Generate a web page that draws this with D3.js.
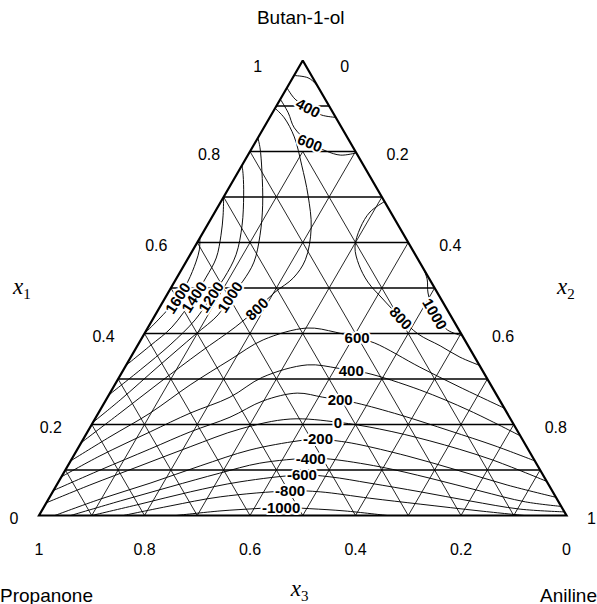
<!DOCTYPE html>
<html>
<head>
<meta charset="utf-8">
<script src="https://cdn.jsdelivr.net/npm/d3@7"></script>
<style>
  body { margin: 0; background: #fff; }
  svg { display: block; }
  text { font-family: "Liberation Sans", Arial, sans-serif; fill: #000; }
</style>
</head>
<body>
<svg width="597" height="604"></svg>
<script>
const width = 597
const height = 604
const marginL = 39, marginR = 30.5, marginT = 60.5, marginB = 88.5

// every point is a composition [x1, x2]; x3 = 1 - x1 - x2
const vertexNames = ["Butan-1-ol", "Propanone", "Aniline"]
const tickValues = [0, 0.2, 0.4, 0.6, 0.8, 1]
const tickLabels = ["0", "0.2", "0.4", "0.6", "0.8", "1"]
const gridValues = [0.1, 0.2, 0.3, 0.4, 0.5, 0.6, 0.7, 0.8, 0.9]
const slantTop = 0.8 // slanted grid lines stop at this x1 row

const contourLevels = [200, 400, 600, 800, 1000, 1200, 1400, 1600, 800, 1000,
  600, 400, 200, 0, -200, -400, -600, -800, -1000]

const contourPaths = [
  [[0.967,0],[0.962,0.029],[0.948,0.051],[0.935,0.065]],
  [[0.94,0],[0.915,0.028],[0.896,0.062],[0.88,0.096],[0.875,0.125]],
  [[0.915,0],[0.885,0.030],[0.852,0.058],[0.819,0.104],[0.801,0.144],[0.792,0.176],[0.797,0.203]],
  [[0.895,0],[0.874,0.028],[0.832,0.068],[0.770,0.113],[0.704,0.158],[0.632,0.200],[0.562,0.224],
   [0.522,0.221],[0.491,0.202],[0.454,0.186],[0.414,0.165],[0.359,0.126],[0.293,0.083],[0.225,0.041],[0.16,0]],
  [[0.83,0],[0.808,0.015],[0.759,0.043],[0.682,0.083],[0.616,0.111],[0.557,0.129],[0.515,0.129],
   [0.480,0.122],[0.441,0.119],[0.397,0.097],[0.331,0.064],[0.254,0.027],[0.205,0]],
  [[0.77,0],[0.748,0.013],[0.704,0.036],[0.638,0.066],[0.573,0.087],[0.522,0.090],[0.480,0.086],
   [0.430,0.081],[0.375,0.061],[0.320,0.032],[0.265,0]],
  [[0.70,0],[0.660,0.019],[0.616,0.037],[0.566,0.053],[0.524,0.055],[0.480,0.054],[0.414,0.045],
   [0.373,0.024],[0.33,0]],
  [[0.61,0],[0.584,0.012],[0.557,0.019],[0.515,0.025],[0.478,0.024],[0.430,0.011],[0.40,0]],
  [[0.69,0.31],[0.667,0.294],[0.632,0.293],[0.590,0.304],[0.551,0.331],[0.513,0.367],[0.478,0.411],
   [0.434,0.469],[0.399,0.519],[0.373,0.574],[0.348,0.624],[0.33,0.67]],
  [[0.54,0.46],[0.518,0.477],[0.489,0.493],[0.443,0.529],[0.408,0.570],[0.395,0.605]],
  [[0.12,0],[0.173,0.048],[0.225,0.098],[0.287,0.143],[0.342,0.191],[0.386,0.232],[0.412,0.302],
   [0.403,0.360],[0.390,0.408],[0.379,0.447],[0.326,0.559],[0.282,0.657],[0.236,0.764]],
  [[0.085,0],[0.131,0.050],[0.184,0.119],[0.225,0.174],[0.260,0.232],[0.304,0.272],[0.331,0.343],
   [0.324,0.403],[0.318,0.433],[0.313,0.465],[0.276,0.584],[0.230,0.702],[0.175,0.825]],
  [[0.055,0],[0.100,0.066],[0.146,0.137],[0.184,0.195],[0.216,0.254],[0.252,0.299],[0.269,0.355],
   [0.260,0.408],[0.254,0.444],[0.247,0.479],[0.221,0.574],[0.186,0.686],[0.153,0.788],[0.12,0.88]],
  [[0.028,0],[0.067,0.063],[0.109,0.137],[0.151,0.211],[0.190,0.286],[0.212,0.370],[0.205,0.464],
   [0.190,0.551],[0.164,0.659],[0.124,0.793],[0.075,0.925]],
  [[0,0.03],[0.036,0.098],[0.071,0.175],[0.109,0.251],[0.144,0.328],[0.164,0.409],[0.168,0.445],
   [0.164,0.483],[0.157,0.524],[0.131,0.632],[0.100,0.742],[0.067,0.854],[0.04,0.96]],
  [[0,0.06],[0.032,0.138],[0.063,0.217],[0.093,0.296],[0.115,0.361],[0.126,0.452],[0.124,0.490],
   [0.107,0.593],[0.082,0.700],[0.054,0.809],[0.030,0.907],[0.02,0.98]],
  [[0,0.10],[0.025,0.179],[0.052,0.261],[0.074,0.344],[0.089,0.454],[0.085,0.509],[0.071,0.592],
   [0.052,0.697],[0.032,0.801],[0.014,0.905],[0.008,0.992]],
  [[0,0.16],[0.021,0.238],[0.041,0.323],[0.054,0.449],[0.052,0.507],[0.038,0.608],[0.025,0.710],
   [0.010,0.831],[0,0.92]],
  [[0,0.26],[0.010,0.338],[0.015,0.402],[0.018,0.450],[0.015,0.506],[0.010,0.575],[0,0.66]]
]

const labelTexts = ["400", "600", "1600", "1400", "1200", "1000", "800", "800", "1000",
  "600", "400", "200", "0", "-200", "-400", "-600", "-800", "-1000"]
const labelSpots = [[0.896,0.062],[0.819,0.104],[0.478,0.024],[0.480,0.054],[0.480,0.086],
  [0.480,0.122],[0.454,0.186],[0.434,0.469],[0.443,0.529],[0.390,0.408],[0.318,0.433],
  [0.254,0.444],[0.205,0.464],[0.168,0.445],[0.126,0.452],[0.089,0.454],[0.054,0.449],[0.018,0.450]]
const labelAngles = [28, 22, -57, -57, -57, -57, -45, 47, 60, 0, 0, 0, 0, 0, 0, 0, 0, 0]

const svg = d3.select("svg")

// horizontal position is x2 + x1/2, vertical is x1
const xScale = d3.scaleLinear().domain([0, 1]).range([marginL, width - marginR])
const yScale = d3.scaleLinear().domain([0, 1]).range([height - marginB, marginT])
const pt = c => [xScale(c[1] + c[0] / 2), yScale(c[0])]

const corners = [[1, 0], [0, 0], [0, 1]]

svg.append("clipPath").attr("id", "tri")
  .append("polygon").attr("points", corners.map(pt).join(" "))

const straight = d3.line().x(c => pt(c)[0]).y(c => pt(c)[1])
const smooth = d3.line().x(c => pt(c)[0]).y(c => pt(c)[1]).curve(d3.curveCatmullRom.alpha(0.5))

// grid
const grid = svg.append("g").attr("stroke", "#000").attr("fill", "none")
gridValues.forEach(v => {
  grid.append("path").attr("d", straight([[v, 0], [v, 1 - v]])).attr("stroke-width", 1.4)
  const topRow = Math.min(slantTop, 1 - v)
  grid.append("path").attr("d", straight([[0, v], [topRow, v]])).attr("stroke-width", 0.85)
  grid.append("path").attr("d", straight([[0, 1 - v], [topRow, 1 - v - topRow]])).attr("stroke-width", 0.85)
})

// contours
svg.append("g").attr("clip-path", "url(#tri)")
  .selectAll("path").data(contourPaths).join("path")
  .attr("d", d => smooth(d))
  .attr("fill", "none").attr("stroke", "#000").attr("stroke-width", 0.95)
  .attr("class", (d, i) => "level" + contourLevels[i])

// frame
svg.append("path")
  .attr("d", straight(corners.concat([corners[0]])))
  .attr("fill", "none").attr("stroke", "#000").attr("stroke-width", 2.2)
  .attr("stroke-linejoin", "miter")

// contour labels with a white halo that cuts the lines
svg.append("g").selectAll("text").data(labelTexts).join("text")
  .attr("transform", (d, i) => {
    const p = pt(labelSpots[i])
    return "translate(" + p[0] + "," + p[1] + ") rotate(" + labelAngles[i] + ")"
  })
  .attr("text-anchor", "middle")
  .attr("dy", "0.36em")
  .style("font-size", "15px")
  .style("font-weight", "bold")
  .style("paint-order", "stroke")
  .attr("stroke", "#fff").attr("stroke-width", 4).attr("stroke-linejoin", "round")
  .text(d => d)

// tick labels on the three sides
const ticks = svg.append("g").style("font-size", "16px").attr("text-anchor", "middle")
tickValues.forEach((t, i) => {
  const side = t === 0 ? 25 : (t === 1 ? 45 : 41)
  const lp = pt([t, 0])
  ticks.append("text").attr("x", lp[0] - side).attr("y", lp[1] + (t === 1 ? 6 : 3))
    .attr("dy", "0.36em").text(tickLabels[i])
  const rside = t === 1 ? 25 : 42
  const rp = pt([1 - t, t])
  ticks.append("text").attr("x", rp[0] + rside).attr("y", rp[1] + (t === 0 ? 6 : 3))
    .attr("dy", "0.36em").text(tickLabels[i])
  const bp = pt([0, 1 - t])
  ticks.append("text").attr("x", bp[0]).attr("y", bp[1] + 34)
    .attr("dy", "0.36em").text(tickLabels[i])
})

// component names
const apex = pt(corners[0]), lv = pt(corners[1]), rv = pt(corners[2])
svg.append("text").attr("x", apex[0] - 2).attr("y", 24).attr("text-anchor", "middle")
  .style("font-size", "19px").text(vertexNames[0])
svg.append("text").attr("x", 0).attr("y", lv[1] + 86).style("font-size", "19px").text(vertexNames[1])
svg.append("text").attr("x", width).attr("y", rv[1] + 86).attr("text-anchor", "end")
  .style("font-size", "19px").text(vertexNames[2])

// mole fraction symbols
function symbol(x, y, sub) {
  const t = svg.append("text").attr("x", x).attr("y", y)
    .style("font-family", "'Liberation Serif', 'Times New Roman', serif").style("font-size", "23px")
  t.append("tspan").style("font-style", "italic").text("x")
  t.append("tspan").attr("dy", 5).style("font-size", "15px").text(sub)
}
symbol(13, 294, "1")
symbol(557, 294, "2")
symbol(xScale(0.5) - 12, lv[1] + 80, "3")
</script>
</body>
</html>
